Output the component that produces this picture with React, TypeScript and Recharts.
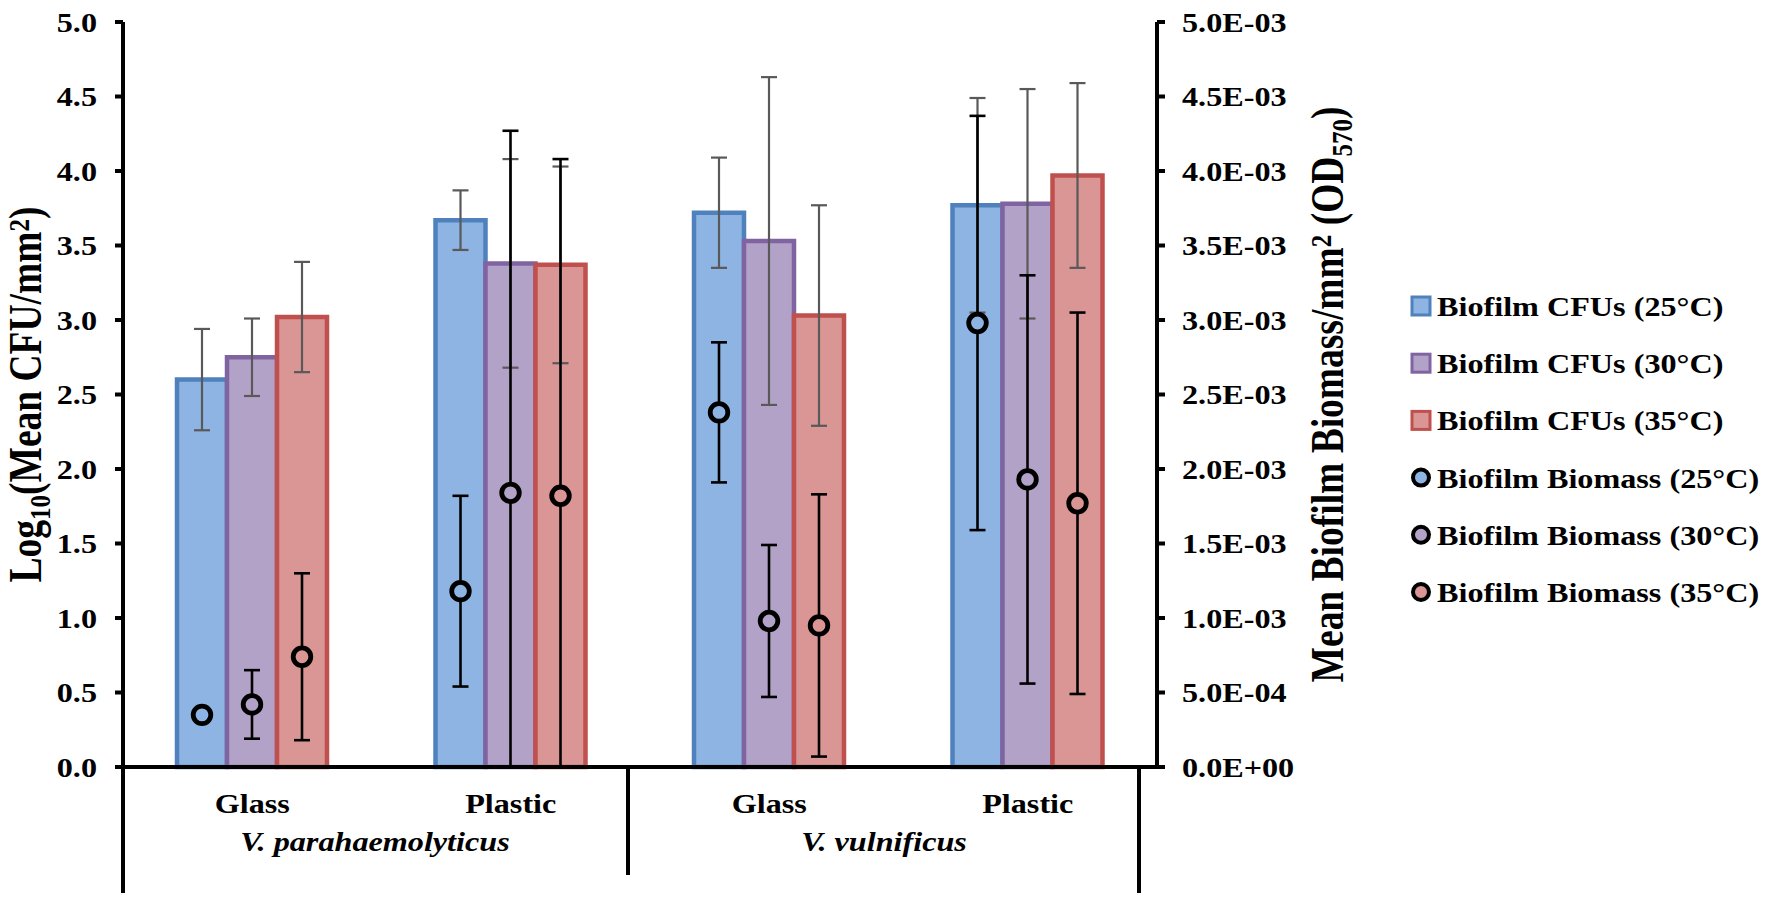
import React from 'react';
import { ComposedChart, Bar, XAxis, YAxis, ErrorBar, LabelList } from 'recharts';

// categories along the x axis (two species x two surfaces)
const categories = ['Glass', 'Plastic', 'Glass', 'Plastic'];
const speciesLabels = ['V. parahaemolyticus', 'V. vulnificus'];

// Log10 mean CFU/mm2 (left axis) and their error
const cfu25 = [2.6, 3.67, 3.72, 3.77];
const cfu25Err = [0.34, 0.2, 0.37, 0.72];
const cfu30 = [2.75, 3.38, 3.53, 3.78];
const cfu30Err = [0.26, 0.7, 1.1, 0.77];
const cfu35 = [3.02, 3.37, 3.03, 3.97];
const cfu35Err = [0.37, 0.66, 0.74, 0.62];

// mean biofilm biomass OD570/mm2 (right axis) and their error
const bio25 = [0.00035, 0.00118, 0.00238, 0.00298];
const bio25Err = [0, 0.00064, 0.00047, 0.00139];
const bio30 = [0.00042, 0.00184, 0.00098, 0.00193];
const bio30Err = [0.00023, 0.00243, 0.00051, 0.00137];
const bio35 = [0.00074, 0.00182, 0.00095, 0.00177];
const bio35Err = [0.00056, 0.00226, 0.00088, 0.00128];

const leftTicks = [0, 0.5, 1, 1.5, 2, 2.5, 3, 3.5, 4, 4.5, 5];
const rightTicks = [0, 0.0005, 0.001, 0.0015, 0.002, 0.0025, 0.003, 0.0035, 0.004, 0.0045, 0.005];

const legendNames = [
  'Biofilm CFUs (25°C)',
  'Biofilm CFUs (30°C)',
  'Biofilm CFUs (35°C)',
  'Biofilm Biomass (25°C)',
  'Biofilm Biomass (30°C)',
  'Biofilm Biomass (35°C)',
];

const FONT = "'Liberation Serif', 'Times New Roman', serif";
const fills = ['#8DB4E2', '#B3A2C7', '#DA9694'];
const borders = ['#4F81BD', '#8064A2', '#C0504D'];

// error below zero is cut at the axis, like the original
const clipped = (vals: number[], errs: number[]) => vals.map((v, i) => [Math.min(errs[i], v), errs[i]]);

const data = categories.map((name, i) => ({
  name,
  cfu25: cfu25[i],
  cfu25Err: cfu25Err[i],
  cfu30: cfu30[i],
  cfu30Err: cfu30Err[i],
  cfu35: cfu35[i],
  cfu35Err: cfu35Err[i],
  bio25: bio25[i],
  bio25Err: clipped(bio25, bio25Err)[i],
  bio30: bio30[i],
  bio30Err: clipped(bio30, bio30Err)[i],
  bio35: bio35[i],
  bio35Err: clipped(bio35, bio35Err)[i],
}));

const sci = (v: number) => {
  if (v === 0) return '0.0E+00';
  const e = Math.floor(Math.log10(v) + 1e-9);
  const m = v / Math.pow(10, e);
  return `${m.toFixed(1)}E-${String(-e).padStart(2, '0')}`;
};

const LeftTick = ({ x, y, payload }: any) => (
  <text transform={`translate(${x},${y}) scale(1.15,1)`} textAnchor="end" dy="0.35em"
    fontFamily={FONT} fontWeight="bold" fontSize={28} fill="#000">
    {Number(payload.value).toFixed(1)}
  </text>
);

const RightTick = ({ x, y, payload }: any) => (
  <text transform={`translate(${x},${y}) scale(1.15,1)`} textAnchor="start" dy="0.35em"
    fontFamily={FONT} fontWeight="bold" fontSize={28} fill="#000">
    {sci(Number(payload.value))}
  </text>
);

const CatTick = ({ x, y, payload }: any) => (
  <text transform={`translate(${x},${y + 44}) scale(1.15,1)`} textAnchor="middle"
    fontFamily={FONT} fontWeight="bold" fontSize={28} fill="#000">
    {payload.value}
  </text>
);

const dot = (fill: string) => (props: any) => {
  const vb = props.viewBox ?? props;
  const cx = vb.x + vb.width / 2;
  const cy = vb.height < 0 ? vb.y + vb.height : vb.y;
  return <circle cx={cx} cy={cy} r={8.8} fill={fill} stroke="#000" strokeWidth={4.8} />;
};

const axisStroke = { stroke: '#000', strokeWidth: 4 };

export default function App() {
  const cfuKeys = ['cfu25', 'cfu30', 'cfu35'];
  const bioKeys = ['bio25', 'bio30', 'bio35'];
  return (
    <div style={{ position: 'absolute', left: 0, top: 0, width: 1772, height: 901, background: '#fff' }}>
      <ComposedChart
        width={1772}
        height={901}
        data={data}
        margin={{ top: 22, right: 515, bottom: 4, left: 23 }}
        barCategoryGap={54}
        barGap={0}
      >
        {cfuKeys.map((k, i) => (
          <Bar key={k} xAxisId="cfu" yAxisId="left" dataKey={k} fill={fills[i]} stroke={borders[i]}
            strokeWidth={4.5} isAnimationActive={false}>
            <ErrorBar dataKey={`${k}Err`} width={8} stroke="#595959" strokeWidth={2.2} />
          </Bar>
        ))}
        {bioKeys.map((k, i) => (
          <Bar key={k} xAxisId="bio" yAxisId="right" dataKey={k} fill="none" stroke="none"
            isAnimationActive={false}>
            <ErrorBar dataKey={`${k}Err`} width={8} stroke="#000" strokeWidth={2.6} />
            <LabelList dataKey={k} content={dot(fills[i])} />
          </Bar>
        ))}
        <XAxis xAxisId="bio" dataKey="name" hide height={0} />
        <XAxis xAxisId="cfu" dataKey="name" height={130} interval={0} tickSize={0} tickLine={false}
          axisLine={axisStroke} tick={<CatTick />} />
        <YAxis yAxisId="left" orientation="left" width={100} domain={[0, 5]} ticks={leftTicks}
          interval={0} tickSize={8} tickMargin={18} axisLine={axisStroke} tickLine={axisStroke}
          tick={<LeftTick />} />
        <YAxis yAxisId="right" orientation="right" width={100} domain={[0, 0.005]} ticks={rightTicks}
          interval={0} tickSize={8} tickMargin={17} axisLine={axisStroke} tickLine={axisStroke}
          tick={<RightTick />} />
      </ComposedChart>

      <svg width={1772} height={901} style={{ position: 'absolute', left: 0, top: 0, pointerEvents: 'none' }}
        fontFamily={FONT} fontWeight="bold">
        {/* multi-level category separators */}
        <line x1={123} y1={767} x2={123} y2={893} stroke="#000" strokeWidth={4} />
        <line x1={628} y1={767} x2={628} y2={875} stroke="#000" strokeWidth={4} />
        <line x1={1139} y1={767} x2={1139} y2={893} stroke="#000" strokeWidth={4} />
        <text transform="translate(375,851) scale(1.15,1)" textAnchor="middle" fontSize={28} fontStyle="italic">
          {speciesLabels[0]}
        </text>
        <text transform="translate(884,851) scale(1.15,1)" textAnchor="middle" fontSize={28} fontStyle="italic">
          {speciesLabels[1]}
        </text>

        {/* axis titles */}
        <text transform="translate(41,394.5) rotate(-90) scale(1,1.22)" textAnchor="middle" fontSize={37.5}>
          Log<tspan fontSize={25} dy={7}>10</tspan>
          <tspan dy={-7}>(Mean CFU/mm</tspan>
          <tspan fontSize={25} dy={-10}>2</tspan>
          <tspan dy={10}>)</tspan>
        </text>
        <text transform="translate(1343,394.5) rotate(-90) scale(1,1.22)" textAnchor="middle" fontSize={37.5}>
          Mean Biofilm Biomass/mm<tspan fontSize={25} dy={-10}>2</tspan>
          <tspan dy={10}> (OD</tspan>
          <tspan fontSize={25} dy={7}>570</tspan>
          <tspan dy={-7}>)</tspan>
        </text>

        {/* legend */}
        {legendNames.map((name, i) => {
          const cy = 306 + i * 57.2;
          const c = i % 3;
          return (
            <g key={name}>
              {i < 3 ? (
                <rect x={1412} y={cy - 9} width={18} height={18} fill={fills[c]} stroke={borders[c]} strokeWidth={3} />
              ) : (
                <circle cx={1421} cy={cy} r={8} fill={fills[c]} stroke="#000" strokeWidth={4} />
              )}
              <text transform={`translate(1437,${cy + 10}) scale(1.15,1)`} fontSize={28}>{name}</text>
            </g>
          );
        })}
      </svg>
    </div>
  );
}
